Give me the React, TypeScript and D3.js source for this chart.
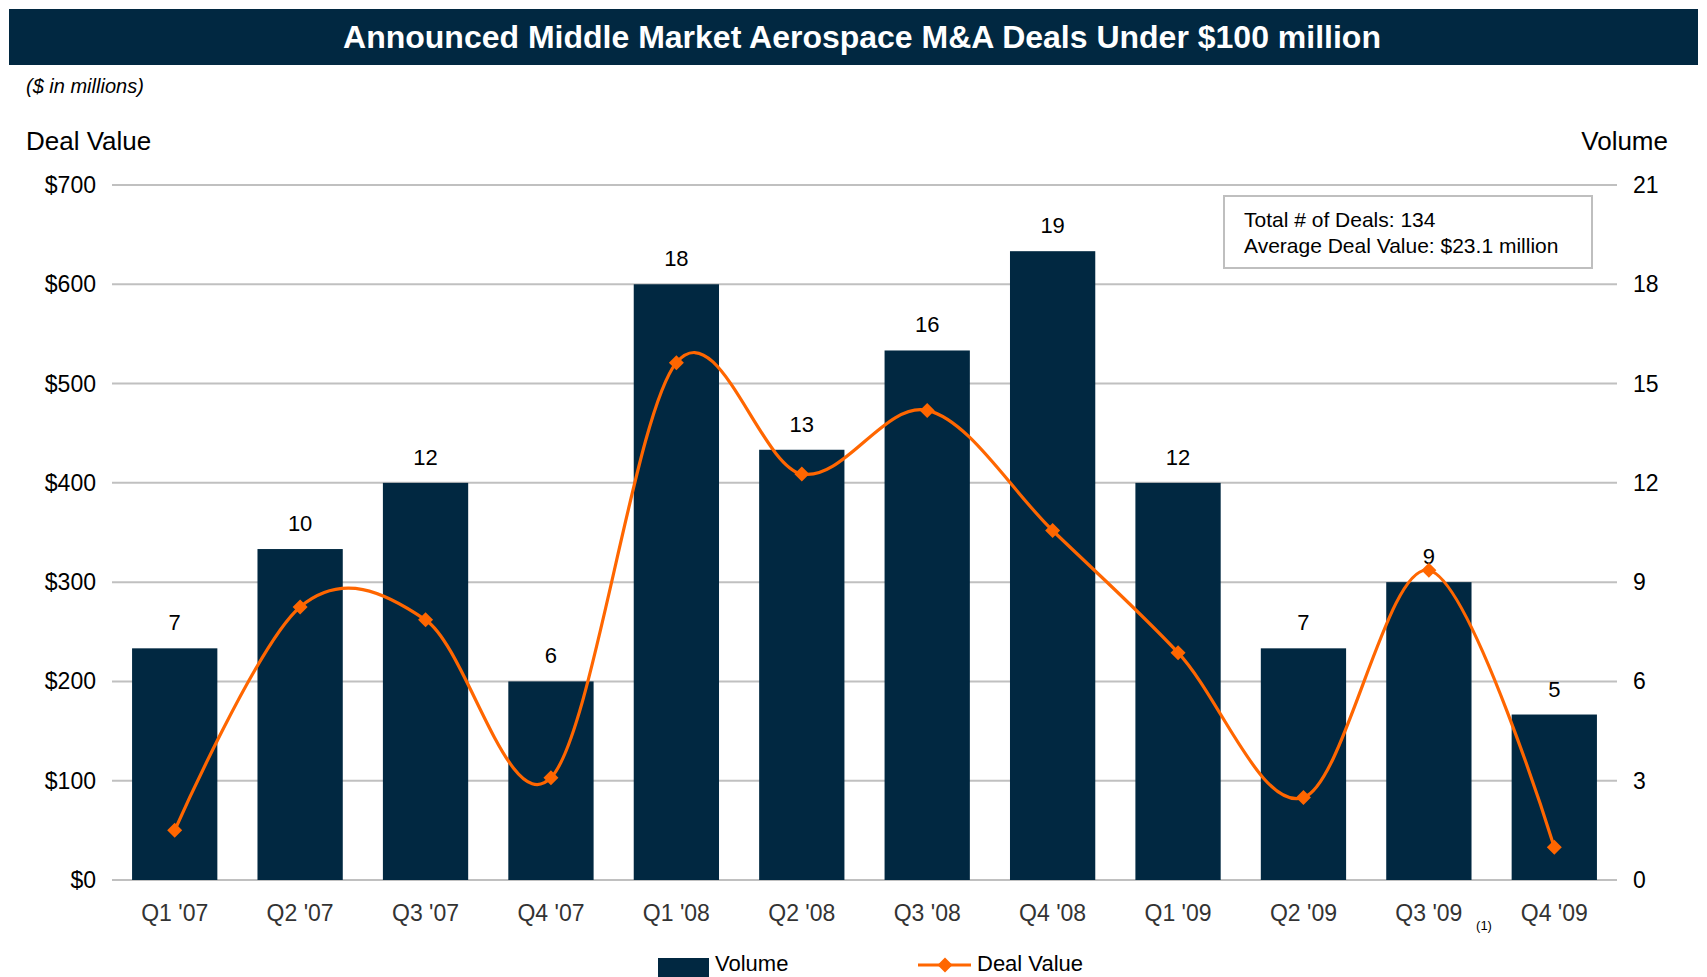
import React from "react";
import * as d3 from "d3";

const categories = ["Q1 '07", "Q2 '07", "Q3 '07", "Q4 '07", "Q1 '08", "Q2 '08", "Q3 '08", "Q4 '08", "Q1 '09", "Q2 '09", "Q3 '09", "Q4 '09"];
const volume = [7, 10, 12, 6, 18, 13, 16, 19, 12, 7, 9, 5];
const dealValue = [50, 275, 262, 103, 521, 409, 473, 352, 229, 83, 312, 33];
const leftTicks = [0, 100, 200, 300, 400, 500, 600, 700];
const rightTicks = [0, 3, 6, 9, 12, 15, 18, 21];

const W = 1707;
const H = 977;
const NAVY = "#012841";
const ORANGE = "#FF6600";
const FONT = "'Liberation Sans', Arial, Helvetica, sans-serif";

export default function App() {
  const left = 112, right = 1617, top = 185, bottom = 880;
  const x = d3.scaleBand<string>().domain(categories).range([left, right]).paddingInner(0.32).paddingOuter(0.16);
  const yL = d3.scaleLinear().domain([0, 700]).range([bottom, top]);
  const yR = d3.scaleLinear().domain([0, 21]).range([bottom, top]);
  const cx = (c: string) => (x(c) as number) + x.bandwidth() / 2;

  const pts: [number, number][] = categories.map((c, i) => [cx(c), yL(dealValue[i])]);
  const lineGen = d3.line().curve(d3.curveCardinal.tension(0));
  const path = lineGen(pts) || "";

  const diamond = (px: number, py: number, r: number) =>
    `M${px},${py - r}L${px + r},${py}L${px},${py + r}L${px - r},${py}Z`;

  return (
    <svg width={W} height={H} style={{ position: "absolute", left: 0, top: 0, fontFamily: FONT }}>
      <rect x={0} y={0} width={W} height={H} fill="#fff" />
      {/* Title bar */}
      <rect x={9} y={9} width={1689} height={56} fill={NAVY} />
      <text x={862} y={48} textAnchor="middle" fill="#fff" fontSize={32} fontWeight="bold">
        Announced Middle Market Aerospace M&amp;A Deals Under $100 million
      </text>
      <text x={26} y={93} fontSize={20} fontStyle="italic" fill="#000">($ in millions)</text>
      <text x={26} y={150} fontSize={26} fill="#000">Deal Value</text>
      <text x={1668} y={150} fontSize={26} fill="#000" textAnchor="end">Volume</text>

      {/* gridlines */}
      {leftTicks.map((t) => (
        <line key={"g" + t} x1={left} x2={right} y1={yL(t)} y2={yL(t)} stroke="#c0c0c0" strokeWidth={2} />
      ))}
      {leftTicks.map((t) => (
        <text key={"l" + t} x={96} y={yL(t) + 8} textAnchor="end" fontSize={23} fill="#000">
          {"$" + t}
        </text>
      ))}
      {rightTicks.map((t) => (
        <text key={"r" + t} x={1633} y={yR(t) + 8} textAnchor="start" fontSize={23} fill="#000">
          {t}
        </text>
      ))}

      {/* bars */}
      {categories.map((c, i) => (
        <rect key={"b" + c} x={x(c)} y={yR(volume[i])} width={x.bandwidth()} height={bottom - yR(volume[i])} fill={NAVY} />
      ))}
      {categories.map((c, i) => (
        <text key={"v" + c} x={cx(c)} y={yR(volume[i]) - 18} textAnchor="middle" fontSize={22} fill="#000">
          {volume[i]}
        </text>
      ))}

      {/* line */}
      <path d={path} fill="none" stroke={ORANGE} strokeWidth={3.2} />
      {pts.map(([px, py], i) => (
        <path key={"m" + i} d={diamond(px, py, 7.5)} fill={ORANGE} />
      ))}

      {/* category labels */}
      {categories.map((c) => (
        <text key={"c" + c} x={cx(c)} y={921} textAnchor="middle" fontSize={23} fill="#333">
          {c}
        </text>
      ))}
      <text x={1484} y={930} textAnchor="middle" fontSize={13} fill="#000">(1)</text>

      {/* info box */}
      <rect x={1224} y={196} width={368} height={72} fill="#fff" stroke="#bfbfbf" strokeWidth={2} />
      <text x={1244} y={227} fontSize={21} fill="#000">Total # of Deals: 134</text>
      <text x={1244} y={253} fontSize={21} fill="#000">Average Deal Value: $23.1 million</text>

      {/* legend */}
      <rect x={658} y={958} width={51} height={19} fill={NAVY} />
      <text x={715} y={971} fontSize={22} fill="#000">Volume</text>
      <line x1={918} x2={971} y1={965} y2={965} stroke={ORANGE} strokeWidth={3.2} />
      <path d={diamond(945, 965, 7.5)} fill={ORANGE} />
      <text x={977} y={971} fontSize={22} fill="#000">Deal Value</text>
    </svg>
  );
}
